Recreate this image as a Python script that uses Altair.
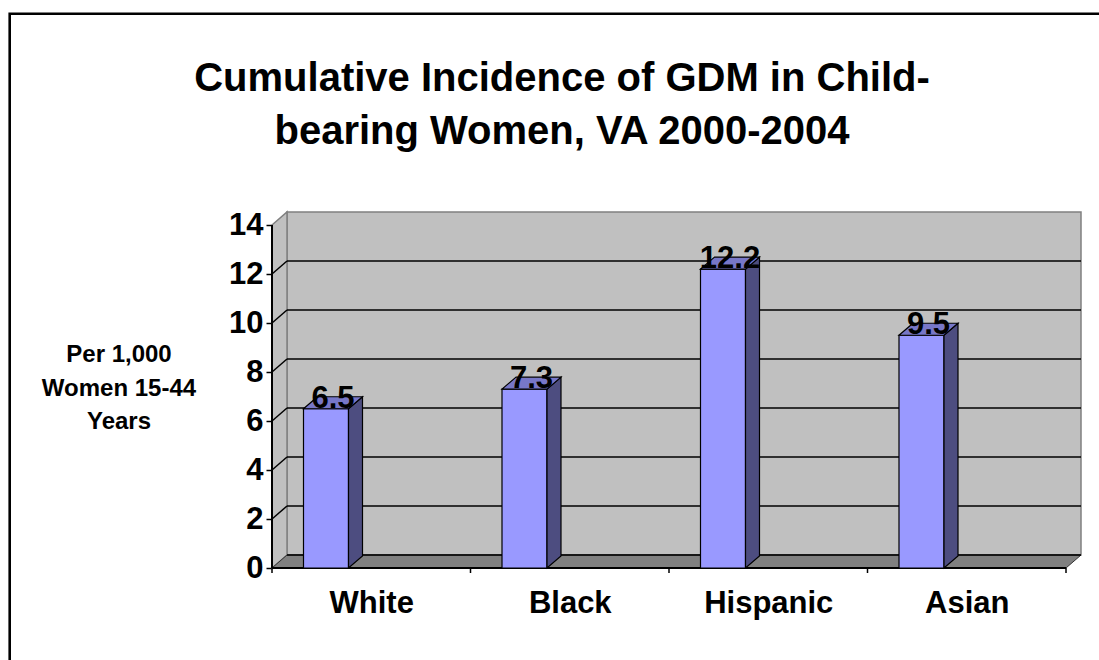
import altair as alt
import pandas as pd

# ---------------- data ----------------
categories = ["White", "Black", "Hispanic", "Asian"]
values = [6.5, 7.3, 12.2, 9.5]
y_ticks = [0, 2, 4, 6, 8, 10, 12, 14]
grid_values = [0, 2, 4, 6, 8, 10, 12]
title_lines = ["Cumulative Incidence of GDM in Child-", "bearing Women, VA 2000-2004"]
y_title_lines = ["Per 1,000", "Women 15-44", "Years"]

# ---------------- geometry / style ----------------
FONT = "Liberation Sans"
PX_PER_CAT = 198.5
PX_PER_UNIT = 24.5
WALL_DX_PX, WALL_DY_PX = 15, 13
BAR_DX_PX, BAR_DY_PX = 14, 12
BAR_OFF_PX, BAR_W_PX = 31.5, 45
Y_MAX = 14
n = len(categories)

wdx = WALL_DX_PX / PX_PER_CAT
wdy = WALL_DY_PX / PX_PER_UNIT
bdx = BAR_DX_PX / PX_PER_CAT
bdy = BAR_DY_PX / PX_PER_UNIT
off = BAR_OFF_PX / PX_PER_CAT
bw = BAR_W_PX / PX_PER_CAT

X_DOM = [0, n + wdx]
Y_DOM = [0, Y_MAX + wdy]
W = (n + wdx) * PX_PER_CAT
H = (Y_MAX + wdy) * PX_PER_UNIT
LEFT, TOP = 272, 212
RIGHT = 1099 - LEFT - W
BOTTOM = 660 - TOP - H

xs = alt.Scale(domain=X_DOM, nice=False, zero=False)
ys = alt.Scale(domain=Y_DOM, nice=False, zero=False)

label_expr = "[" + ",".join("'%s'" % c for c in categories) + "][floor(datum.value)]"
X_AXIS = alt.Axis(
    values=[i + 0.5 for i in range(n)], labelExpr=label_expr, title=None, domain=False,
    grid=False, ticks=False, labelFont=FONT, labelFontSize=31, labelFontWeight="bold",
    labelColor="black", labelBaseline="alphabetic", labelPadding=44)
Y_AXIS = alt.Axis(
    values=y_ticks, title=None, domain=False, grid=False, tickSize=6, tickWidth=1.5,
    tickColor="black", labelFont=FONT, labelFontSize=31, labelFontWeight="bold",
    labelColor="black", labelPadding=3)


def X(f, **kw):
    return alt.X(f, scale=xs, axis=X_AXIS, **kw)


def Y(f, **kw):
    return alt.Y(f, scale=ys, axis=Y_AXIS, **kw)


# back wall
back_df = pd.DataFrame([{"x": wdx, "x2": n + wdx, "y": wdy, "y2": Y_MAX + wdy}])
back = alt.Chart(back_df).mark_rect(fill="#c0c0c0", stroke="#808080", strokeWidth=1.5).encode(
    x=X("x:Q"), x2="x2:Q", y=Y("y:Q"), y2="y2:Q")

# left wall
left_df = pd.DataFrame([{"x": 0, "lo": 0, "hi": Y_MAX}, {"x": wdx, "lo": wdy, "hi": Y_MAX + wdy}])
left = alt.Chart(left_df).mark_area(orient="vertical", fill="#c0c0c0", stroke="#808080",
                                    strokeWidth=1.5).encode(
    x=X("x:Q"), y=Y("hi:Q", stack=None), y2="lo:Q")

# floor
floor_df = pd.DataFrame([{"y": 0, "x": 0, "x2": n}, {"y": wdy, "x": wdx, "x2": n + wdx}])
floor = alt.Chart(floor_df).mark_area(orient="horizontal", fill="#808080", stroke="#333333",
                                      strokeWidth=1).encode(
    y=Y("y:Q"), x=X("x:Q", stack=None), x2="x2:Q")

# gridlines on back wall
grid_df = pd.DataFrame({"v": grid_values})
grid_df["yy"] = grid_df["v"] + wdy
grid_df["xa"] = wdx
grid_df["xb"] = n + wdx
grid = alt.Chart(grid_df).mark_rule(color="black", strokeWidth=1.5).encode(
    x=X("xa:Q"), x2="xb:Q", y=Y("yy:Q"))

# diagonals on left wall
diag_df = pd.DataFrame({"v": grid_values[1:]})
diag_df["v2"] = diag_df["v"] + wdy
diag_df["xa"] = 0.0
diag_df["xb"] = wdx
diag = alt.Chart(diag_df).mark_rule(color="black", strokeWidth=1.5).encode(
    x=X("xa:Q"), x2="xb:Q", y=Y("v:Q"), y2="v2:Q")

# y axis line
yax_df = pd.DataFrame([{"x": 0, "y": 0, "y2": Y_MAX}])
yaxis = alt.Chart(yax_df).mark_rule(color="black", strokeWidth=2).encode(
    x=X("x:Q"), y=Y("y:Q"), y2="y2:Q")

# x axis line
xax_df = pd.DataFrame([{"x": 0, "x2": n, "y": 0}])
xaxis = alt.Chart(xax_df).mark_rule(color="black", strokeWidth=2).encode(
    x=X("x:Q"), x2="x2:Q", y=Y("y:Q"))

# x ticks at category boundaries
xt_df = pd.DataFrame({"b": list(range(n + 1))})
xt_df["y"] = 0.0
xt_df["y2"] = -5 / PX_PER_UNIT
xticks = alt.Chart(xt_df).mark_rule(color="black", strokeWidth=1.5).encode(
    x=X("b:Q"), y=Y("y:Q"), y2="y2:Q")

# bars
bar_df = pd.DataFrame({"cat": categories, "v": values})
bar_df["i"] = range(n)
bar_df["xl"] = bar_df["i"] + off
bar_df["xr"] = bar_df["xl"] + bw
bar_df["y0"] = 0.0
bar_df["xc"] = bar_df["xl"] + (bw + bdx) / 2
front = alt.Chart(bar_df).mark_rect(fill="#9999ff", stroke="black", strokeWidth=1.2).encode(
    x=X("xl:Q"), x2="xr:Q", y=Y("y0:Q"), y2="v:Q")

side_rows, top_rows = [], []
for c, v, xr, xl in zip(bar_df["cat"], bar_df["v"], bar_df["xr"], bar_df["xl"]):
    side_rows.append({"cat": c, "x": xr, "lo": 0.0, "hi": v})
    side_rows.append({"cat": c, "x": xr + bdx, "lo": bdy, "hi": v + bdy})
    top_rows.append({"cat": c, "y": v, "xa": xl, "xb": xr})
    top_rows.append({"cat": c, "y": v + bdy, "xa": xl + bdx, "xb": xr + bdx})
side = alt.Chart(pd.DataFrame(side_rows)).mark_area(
    orient="vertical", fill="#4d4d80", stroke="black", strokeWidth=1.2).encode(
    x=X("x:Q"), y=Y("hi:Q", stack=None), y2="lo:Q", detail="cat:N")
top = alt.Chart(pd.DataFrame(top_rows)).mark_area(
    orient="horizontal", fill="#7777c8", stroke="black", strokeWidth=1.2).encode(
    y=Y("y:Q"), x=X("xa:Q", stack=None), x2="xb:Q", detail="cat:N")

labels = alt.Chart(bar_df).mark_text(
    font=FONT, fontSize=31, fontWeight="bold", color="black", baseline="alphabetic",
    align="center", dy=-1).encode(
    x=X("xc:Q"), y=Y("v:Q"), text=alt.Text("v:Q", format=".1f"))

# title and y-axis title as text
title_df = pd.DataFrame([{"t": "\n".join(title_lines)}])
title = alt.Chart(title_df).mark_text(
    font=FONT, fontSize=40, fontWeight="bold", color="black", align="center",
    baseline="alphabetic", lineBreak="\n", lineHeight=53).encode(
    x=alt.value(562 - LEFT), y=alt.value(91 - TOP), text="t:N")

ytitle_df = pd.DataFrame([{"t": "\n".join(y_title_lines)}])
ytitle = alt.Chart(ytitle_df).mark_text(
    font=FONT, fontSize=24, fontWeight="bold", color="black", align="center",
    baseline="alphabetic", lineBreak="\n", lineHeight=33.5).encode(
    x=alt.value(119 - LEFT), y=alt.value(362 - TOP), text="t:N")

# outer frame
frame_df = pd.DataFrame([{"k": 1}])
frame = alt.Chart(frame_df).mark_rect(fill=None, stroke="black", strokeWidth=2.6).encode(
    x=alt.value(9.7 - LEFT), y=alt.value(13.8 - TOP), x2=alt.value(1300), y2=alt.value(800))

chart = alt.layer(
    back, left, floor, grid, diag, yaxis, xaxis, xticks, front, side, top, labels,
    title, ytitle, frame
).properties(
    width=W, height=H,
    autosize=alt.AutoSizeParams(type="none"),
    padding={"left": LEFT, "top": TOP, "right": RIGHT, "bottom": BOTTOM},
    background="white",
).configure_view(stroke=None)

chart.save("out.html", embed_options={"renderer": "svg", "actions": False})
